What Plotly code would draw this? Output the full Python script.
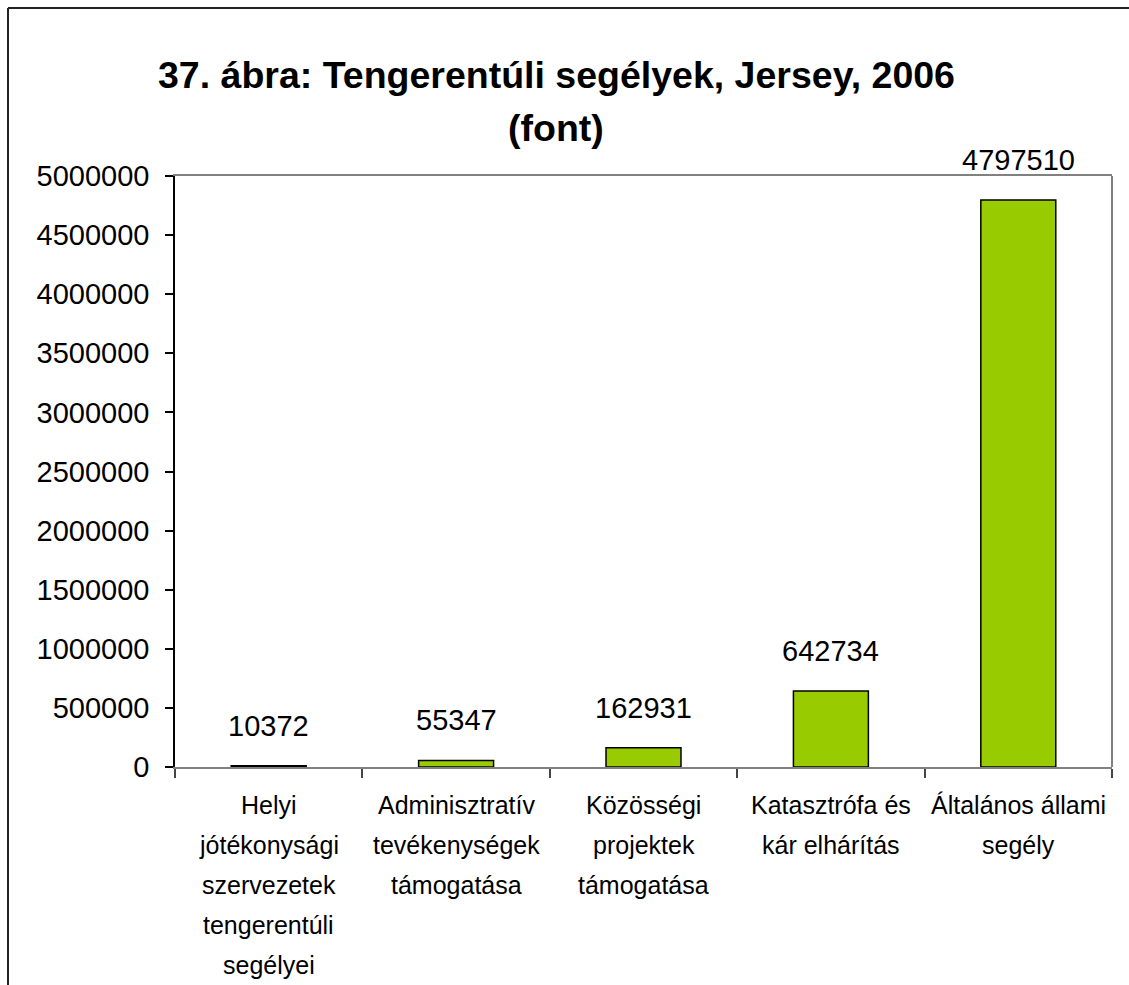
import plotly.graph_objects as go

# Categories (one list of lines per category) and amounts in pounds
category_lines = [
    ["Helyi", "jótékonysági", "szervezetek", "tengerentúli", "segélyei"],
    ["Adminisztratív", "tevékenységek", "támogatása"],
    ["Közösségi", "projektek", "támogatása"],
    ["Katasztrófa és", "kár elhárítás"],
    ["Általános állami", "segély"],
]
categories = [" ".join(lines) for lines in category_lines]
amounts = [10372, 55347, 162931, 642734, 4797510]
y_ticks = list(range(0, 5000001, 500000))

title_line1 = "37. ábra: Tengerentúli segélyek, Jersey, 2006"
title_line2 = "(font)"

FONT = "Liberation Sans, Arial, sans-serif"

W, H = 1129, 985
M_L, M_R, M_T, M_B = 175, 17, 176, 218
PW = W - M_L - M_R
PH = H - M_T - M_B


def px_x(px):
    return (px - M_L) / PW


def px_y(py):
    return (H - M_B - py) / PH


fig = go.Figure(
    go.Bar(
        x=categories,
        y=amounts,
        marker=dict(color="#99CC00", line=dict(color="#000000", width=1.5)),
        hoverinfo="x+y",
    )
)

# value labels above each bar
for c, v in zip(categories, amounts):
    fig.add_annotation(
        x=c, y=v, text=str(v), showarrow=False, yanchor="bottom",
        yshift=22, font=dict(family=FONT, size=29, color="#000000"),
    )

# category labels under the axis, one line at a time for wide line spacing
for c, lines in zip(categories, category_lines):
    for i, line in enumerate(lines):
        fig.add_annotation(
            x=c, y=0, xref="x", yref="paper", text=line, showarrow=False,
            xanchor="center", yanchor="middle", yshift=-(38 + 40 * i),
            font=dict(family=FONT, size=25, color="#000000"),
        )

# title lines
fig.add_annotation(
    x=px_x(556), y=px_y(75), xref="paper", yref="paper", text=f"<b>{title_line1}</b>",
    showarrow=False, xanchor="center", yanchor="middle",
    font=dict(family=FONT, size=37.5, color="#000000"),
)
fig.add_annotation(
    x=px_x(556), y=px_y(128), xref="paper", yref="paper", text=f"<b>{title_line2}</b>",
    showarrow=False, xanchor="center", yanchor="middle",
    font=dict(family=FONT, size=37.5, color="#000000"),
)

# right edge of the plot frame
fig.add_shape(type="line", xref="paper", yref="paper", x0=1, x1=1, y0=0, y1=1,
              line=dict(color="#808080", width=2))
# outer chart border
fig.add_shape(type="line", xref="paper", yref="paper", x0=px_x(8), x1=px_x(8),
              y0=px_y(8), y1=px_y(1100), line=dict(color="#222222", width=2))
fig.add_shape(type="line", xref="paper", yref="paper", x0=px_x(8), x1=px_x(1300),
              y0=px_y(8), y1=px_y(8), line=dict(color="#222222", width=2))

fig.update_layout(
    width=W, height=H,
    margin=dict(l=M_L, r=M_R, t=M_T, b=M_B, autoexpand=False),
    paper_bgcolor="#FFFFFF", plot_bgcolor="#FFFFFF",
    bargap=0.6, showlegend=False,
    font=dict(family=FONT, color="#000000"),
)
fig.update_xaxes(
    type="category", tickson="boundaries", ticks="outside", ticklen=9,
    tickcolor="#444444", tickwidth=1.5, showline=True, linecolor="#808080",
    linewidth=2, mirror=True, showgrid=False, showticklabels=False,
)
fig.update_yaxes(
    range=[0, 5000000], tickvals=y_ticks, ticktext=[str(t) for t in y_ticks],
    ticks="outside", ticklen=8, tickcolor="#000000", tickwidth=1.5,
    showline=True, linecolor="#000000", linewidth=1.5, showgrid=False,
    zeroline=False, ticklabelstandoff=10,
    tickfont=dict(family=FONT, size=29, color="#000000"),
)

fig.write_html("out.html")
